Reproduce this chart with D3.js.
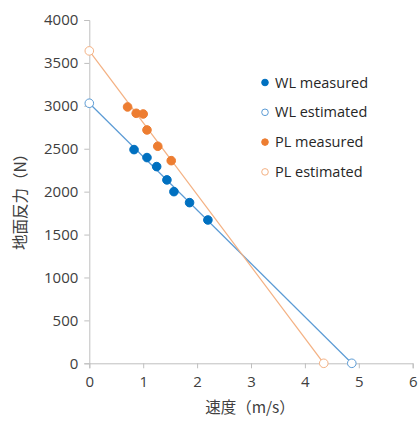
<!DOCTYPE html>
<html><head><meta charset="utf-8">
<script src="https://cdn.jsdelivr.net/npm/d3@7"></script>
<style>body{margin:0;background:#fff}svg{display:block}</style>
</head><body>
<script>
const wlMeasured = [[0.83,2490],[1.07,2397],[1.25,2292],[1.44,2137],[1.57,2000],[1.86,1872],[2.20,1670]];
const wlEstimated = [[0,3030],[4.87,0]];
const plMeasured = [[0.71,2987],[0.87,2913],[1.0,2905],[1.07,2719],[1.27,2529],[1.52,2361]];
const plEstimated = [[0,3640],[4.35,0]];
const xTicks = [0,1,2,3,4,5,6];
const yTicks = [0,500,1000,1500,2000,2500,3000,3500,4000];
const legendLabels = ["WL measured","WL estimated","PL measured","PL estimated"];
const blue = "#0070c0", lblue = "#5b9bd5", orange = "#ed7d31", lorange = "#f4b183";

const W=418,H=422;
const svg=d3.select("body").append("svg").attr("width",W).attr("height",H);
const x=d3.scaleLinear().domain([0,6]).range([89.3,412.7]);
const y=d3.scaleLinear().domain([0,4000]).range([363.3,20]);
const font="'Open Sans', 'Noto Sans', sans-serif";

const xa=svg.append("g").attr("transform",`translate(0,${y(0)})`).call(d3.axisBottom(x).tickValues(xTicks).tickFormat(d3.format("d")).tickSize(5).tickPadding(8));
const ya=svg.append("g").attr("transform",`translate(${x(0)},0)`).call(d3.axisLeft(y).tickValues(yTicks).tickFormat(d3.format("d")).tickSize(5).tickPadding(6));
[xa,ya].forEach(a=>{a.selectAll("path,line").attr("stroke","#bfbfbf");a.selectAll("text").attr("fill","#404040").attr("font-size",15).attr("font-family",font);});

const line=d3.line().x(d=>x(d[0])).y(d=>y(d[1]));
svg.append("path").attr("d",line(wlEstimated)).attr("fill","none").attr("stroke",lblue).attr("stroke-width",1.2);
svg.append("path").attr("d",line(plEstimated)).attr("fill","none").attr("stroke",lorange).attr("stroke-width",1.2);

function dots(data,fill,stroke){
  svg.append("g").selectAll("circle").data(data).join("circle")
   .attr("cx",d=>x(d[0])).attr("cy",d=>y(d[1])).attr("r",4.3)
   .attr("fill",fill).attr("stroke",stroke).attr("stroke-width",1);
}
dots(wlMeasured,blue,blue);
dots(plMeasured,orange,orange);
dots(wlEstimated,"#fff",lblue);
dots(plEstimated,"#fff",lorange);

const lg=svg.append("g");
const styles=[[blue,blue],["#fff",lblue],[orange,orange],["#fff",lorange]];
legendLabels.forEach((t,i)=>{
  const yy=82.5+i*29.8;
  lg.append("circle").attr("cx",265).attr("cy",yy).attr("r",3.3).attr("fill",styles[i][0]).attr("stroke",styles[i][1]);
  lg.append("text").attr("x",275).attr("y",yy).attr("dy","0.35em").text(t)
    .attr("font-size",14.5).attr("fill","#262626").attr("font-family",font);
});

svg.append("text").attr("x",250).attr("y",413).attr("text-anchor","middle").attr("font-size",15.5)
  .attr("fill","#404040").attr("font-family","'Noto Sans CJK JP', sans-serif").text("速度（m/s）");
svg.append("text").attr("transform","translate(21,198) rotate(-90)").attr("text-anchor","middle").attr("dy","0.35em").attr("font-size",15.5)
  .attr("fill","#404040").attr("font-family","'Noto Sans CJK JP', sans-serif").text("地面反力（N）");
</script>
</body></html>
